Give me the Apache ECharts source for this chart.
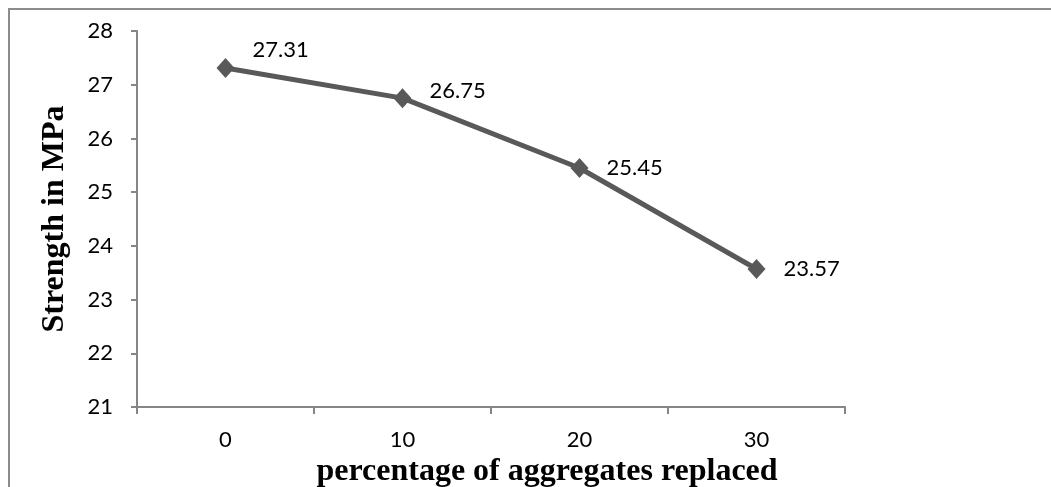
<!DOCTYPE html>
<html>
<head>
<meta charset="utf-8">
<script src="https://cdn.jsdelivr.net/npm/echarts@6/dist/echarts.min.js"></script>
<style>
  html, body { margin: 0; padding: 0; background: #ffffff; width: 1051px; height: 487px; overflow: hidden; }
  #frame {
    position: absolute; left: 8px; top: 8px; width: 1041px; height: 477px;
    border-left: 2px solid #8c8c8c; border-top: 2px solid #8c8c8c;
  }
  #chart { position: absolute; left: 0; top: 0; width: 1051px; height: 487px; }
</style>
</head>
<body>
<div id="frame"></div>
<div id="chart"></div>
<script>
// Compressive strength against share of replaced aggregates
const categories = ['0', '10', '20', '30'];
const strength = [27.31, 26.75, 25.45, 23.57];
const yTicks = { min: 21, max: 28, step: 1 };
const xTitle = 'percentage of aggregates replaced';
const yTitle = 'Strength in MPa';

const numberFont = { fontFamily: 'Lato', fontSize: 22, color: '#000000' };
const titleFont = { fontFamily: 'Liberation Serif', fontWeight: 'bold', fontSize: 32, color: '#000000' };
const axisGray = '#868686';

// vertical nudge of each value label, in px (first two sit a bit above the line)
const labelLift = [-18, -7, 0, 0];

const chart = echarts.init(document.getElementById('chart'), null, { renderer: 'canvas' });

const points = strength.map(function (v, i) {
  return { value: v, label: { offset: [0, labelLift[i] || 0] } };
});

chart.setOption({
  backgroundColor: 'transparent',
  animation: false,
  grid: {
    left: 137, right: 206, top: 31, bottom: 80,
    containLabel: false,
    outerBoundsMode: 'none'
  },
  xAxis: {
    type: 'category',
    data: categories,
    boundaryGap: true,
    name: xTitle,
    nameLocation: 'middle',
    nameGap: 38,
    // the axis title sits a little right of the plot centre
    nameTextStyle: Object.assign({ padding: [0, 0, 0, 112] }, titleFont),
    axisLine: { lineStyle: { color: axisGray, width: 2 } },
    axisTick: { show: true, alignWithLabel: false, length: 7, lineStyle: { color: axisGray, width: 2 } },
    axisLabel: Object.assign({ margin: 22 }, numberFont),
    splitLine: { show: false }
  },
  yAxis: {
    type: 'value',
    min: yTicks.min,
    max: yTicks.max,
    interval: yTicks.step,
    name: yTitle,
    nameLocation: 'middle',
    nameGap: 66,
    nameRotate: 90,
    nameTextStyle: titleFont,
    axisLine: { show: true, lineStyle: { color: axisGray, width: 2 } },
    axisTick: { show: true, length: 6, lineStyle: { color: axisGray, width: 2 } },
    axisLabel: Object.assign({ margin: 24 }, numberFont),
    splitLine: { show: false }
  },
  series: [{
    type: 'line',
    data: points,
    symbol: 'diamond',
    symbolSize: [18, 20],
    lineStyle: { color: '#595959', width: 5 },
    itemStyle: { color: '#595959' },
    label: Object.assign({
      show: true,
      position: 'right',
      distance: 18,
      formatter: function (p) { return p.value.toFixed(2); }
    }, numberFont)
  }]
});
</script>
</body>
</html>
